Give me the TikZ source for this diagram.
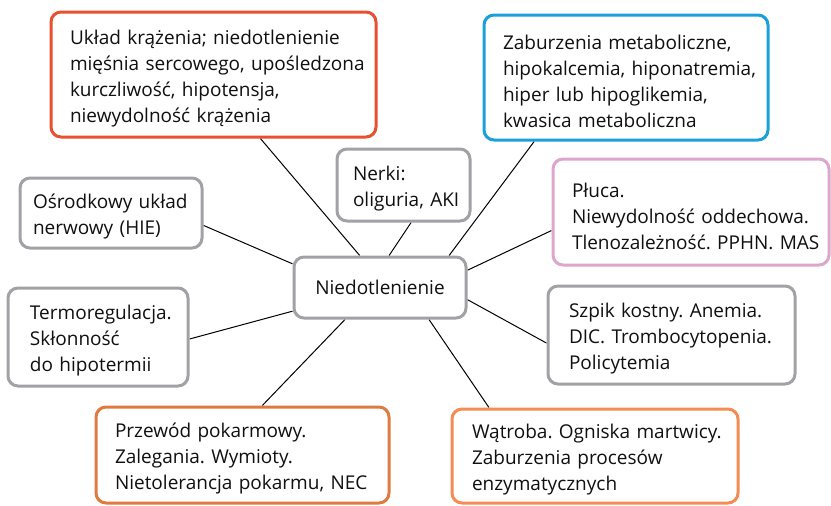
\documentclass[tikz,border=0pt]{standalone}
\usepackage{fontspec}
\setmainfont{Open Sans}
\frenchspacing
\usetikzlibrary{backgrounds,calc}
\definecolor{cred}{HTML}{E8502F}
\definecolor{cblue}{HTML}{1BA0DC}
\definecolor{cpink}{HTML}{DCA6CD}
\definecolor{cgray}{HTML}{A2A2A6}
\definecolor{corgA}{HTML}{E07B40}
\definecolor{corgB}{HTML}{F58C52}
\definecolor{ctext}{HTML}{101010}
\newcommand{\mfont}{\fontsize{19}{26}\selectfont\frenchspacing}
\newcommand{\ml}[1]{\mbox{#1}}
\tikzset{
  bx/.style={rounded corners=10pt, line width=3pt, fill=white, align=left,
    inner ysep=0pt, font=\mfont, text=ctext},
  lowtext/.style={execute at end node={\par\vspace{-8pt}}},
  conn/.style={line width=1pt, black}
}
\begin{document}
\begin{tikzpicture}[x=1pt,y=-1pt]
\useasboundingbox (0,0) rectangle (831,506);
\node[bx, lowtext, draw=cred, minimum width=325, minimum height=125, text width=287, inner xsep=19] (uk) at (213.5,74.5)
  {\ml{Układ krążenia; niedotlenienie}\\\ml{mięśnia sercowego, upośledzona}\\\ml{kurczliwość, hipotensja,}\\\ml{niewydolność krążenia}};
\node[bx, lowtext, draw=cblue, minimum width=284, minimum height=125, text width=246, inner xsep=19] (zab) at (626,77.5)
  {\ml{Zaburzenia metaboliczne,}\\\ml{hipokalcemia, hiponatremia,}\\\ml{hiper lub hipoglikemia,}\\\ml{kwasica metaboliczna}};
\node[bx, lowtext, draw=cgray, minimum width=133, minimum height=72, text width=101, inner xsep=16] (ner) at (403.5,185)
  {\ml{Nerki:}\\\ml{oliguria, AKI}};
\node[bx, lowtext, draw=cgray, minimum width=182, minimum height=70, text width=156, inner xsep=13] (osr) at (111,213)
  {\ml{Ośrodkowy układ}\\\ml{nerwowy (HIE)}};
\node[bx, lowtext, draw=cpink, minimum width=276, minimum height=106, text width=238, inner xsep=19] (plu) at (691,212)
  {\ml{Płuca.}\\\ml{Niewydolność oddechowa.}\\\ml{Tlenozależność. PPHN. MAS}};
\node[bx, draw=cgray, minimum width=172, minimum height=61, align=center, inner xsep=0pt] (c) at (380,287.5)
  {Niedotlenienie};
\node[bx, lowtext, draw=cgray, minimum width=180, minimum height=98, text width=136, inner xsep=22] (ter) at (98,337)
  {\ml{Termoregulacja.}\\\ml{Skłonność}\\\ml{do hipotermii}};
\node[bx, lowtext, draw=cgray, minimum width=247, minimum height=98, text width=205, inner xsep=21] (szp) at (671.5,335)
  {\ml{Szpik kostny. Anemia.}\\\ml{DIC. Trombocytopenia.}\\\ml{Policytemia}};
\node[bx, lowtext, draw=corgA, minimum width=293, minimum height=96, text width=255, inner xsep=19] (prz) at (242.5,455)
  {\ml{Przewód pokarmowy.}\\\ml{Zalegania. Wymioty.}\\\ml{Nietolerancja pokarmu, NEC}};
\node[bx, lowtext, draw=corgB, minimum width=286, minimum height=94, text width=246, inner xsep=20] (wat) at (595,456)
  {\ml{Wątroba. Ogniska martwicy.}\\\ml{Zaburzenia procesów}\\\ml{enzymatycznych}};
\begin{scope}[on background layer]
\draw[conn] ($(uk.south west)!0.643!(uk.south east)$) -- ($(c.north west)!0.384!(c.north east)$);
\draw[conn] ($(ner.south west)!0.556!(ner.south east)$) -- ($(c.north west)!0.552!(c.north east)$);
\draw[conn] ($(zab.south west)!0.18!(zab.south east)$) -- ($(c.north west)!0.895!(c.north east)$);
\draw[conn] ($(osr.north east)!0.67!(osr.south east)$) -- ($(c.north west)!0.13!(c.south west)$);
\draw[conn] ($(plu.north west)!0.67!(plu.south west)$) -- ($(c.north east)!0.23!(c.south east)$);
\draw[conn] ($(ter.north east)!0.52!(ter.south east)$) -- ($(c.north west)!0.87!(c.south west)$);
\draw[conn] ($(szp.north west)!0.58!(szp.south west)$) -- ($(c.north east)!0.69!(c.south east)$);
\draw[conn] ($(prz.north west)!0.567!(prz.north east)$) -- ($(c.south west)!0.30!(c.south east)$);
\draw[conn] ($(wat.north west)!0.133!(wat.north east)$) -- ($(c.south west)!0.78!(c.south east)$);
\end{scope}
\end{tikzpicture}
\end{document}
